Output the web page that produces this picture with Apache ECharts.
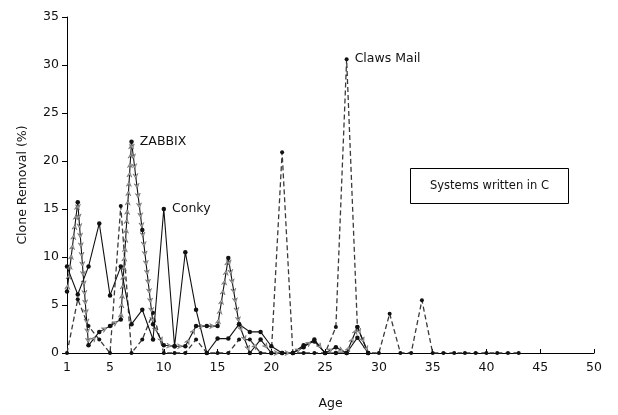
<!DOCTYPE html>
<html>
<head>
<meta charset="utf-8">
<script src="https://cdn.jsdelivr.net/npm/echarts@6/dist/echarts.min.js"></script>
<style>
html,body{margin:0;padding:0;background:#fff;}
#chart{width:618px;height:415px;}
</style>
</head>
<body>
<div id="chart"></div>
<script>
// ---- data ----
const ages = [1,2,3,4,5,6,7,8,9,10,11,12,13,14,15,16,17,18,19,20,21,22,23,24,25,26,27,28,29,30,31,32,33,34,35,36,37,38,39,40,41,42,43];
const zabbix = [6.4,15.7,0.8,2.2,2.8,3.5,22.0,12.8,3.0,0.8,0.7,0.7,2.8,2.8,2.8,9.9,3.0,0,1.4,0,0,0,0.6,1.4,0,0.6,0,2.7,0];
const conky  = [9.0,6.1,9.0,13.5,6.0,9.0,3.0,4.5,1.4,15.0,0.7,10.5,4.5,0,1.5,1.5,3.0,2.2,2.2,0.7,0,0,0.8,1.2,0,0,0,1.6,0];
const claws  = [0,5.6,2.8,1.4,0,15.3,0,1.4,4.2,0,0,0,1.4,0,0,0,1.4,1.4,0,0,20.9,0,0,0,0,2.7,30.6,2.7,0,0,4.1,0,0,5.5,0,0,0,0,0,0,0,0,0];
const xTickValues = [1,5,10,15,20,25,30,35,40,45,50];
const seriesNames = ['ZABBIX','Conky','Claws Mail'];
const noteText = 'Systems written in C';

// ---- build ----
const FONT = 'DejaVu Sans';
function pairs(vals, labelName){
  const peak = Math.max.apply(null, vals);
  return vals.map((v,i)=>{
    const item = {value:[ages[i], v]};
    if (v === peak) {
      item.label = {show:true, position:'right', distance:6, formatter:labelName,
        color:'#111', fontFamily:FONT, fontSize:12.5};
    }
    return item;
  });
}
const zSegs = [];
for (let i=0;i<zabbix.length-1;i++) zSegs.push([ages[i],zabbix[i],ages[i+1],zabbix[i+1]]);

const chart = echarts.init(document.getElementById('chart'), null, {renderer:'canvas'});
chart.setOption({
  animation:false,
  backgroundColor:'#fff',
  grid:{left:67,right:24,top:17,bottom:59},
  xAxis:{
    type:'value', min:1, max:50,
    name:'Age', nameLocation:'middle', nameGap:44,
    nameTextStyle:{color:'#111',fontFamily:FONT,fontSize:12.5},
    axisLine:{show:true,lineStyle:{color:'#000',width:1}},
    axisTick:{show:true,inside:true,length:4,customValues:xTickValues.slice(1),lineStyle:{color:'#000'}},
    axisLabel:{customValues:xTickValues,color:'#111',fontFamily:FONT,fontSize:12.5,margin:8},
    splitLine:{show:false}
  },
  yAxis:{
    type:'value', min:0, max:35, interval:5,
    name:'Clone Removal (%)', nameLocation:'middle', nameGap:38, nameRotate:90,
    nameTextStyle:{color:'#111',fontFamily:FONT,fontSize:12.5},
    axisLine:{show:true,lineStyle:{color:'#000',width:1}},
    axisTick:{show:true,inside:false,length:5,lineStyle:{color:'#000'}},
    axisLabel:{color:'#111',fontFamily:FONT,fontSize:12.5,margin:8},
    splitLine:{show:false}
  },
  series:[
    {
      name:seriesNames[2], type:'line', data:pairs(claws, seriesNames[2]),
      symbol:'circle', symbolSize:4, showSymbol:true,
      lineStyle:{color:'#3a3a3a',width:1.3,type:[5,3]},
      itemStyle:{color:'#111'}, z:2
    },
    {
      name:seriesNames[1], type:'line', data:pairs(conky, seriesNames[1]),
      symbol:'circle', symbolSize:4.5,
      lineStyle:{color:'#111',width:1.1},
      itemStyle:{color:'#111'}, z:3
    },
    {
      name:seriesNames[0], type:'line', data:pairs(zabbix, seriesNames[0]),
      symbol:'circle', symbolSize:4.5,
      lineStyle:{color:'#111',width:1.1},
      itemStyle:{color:'#111'}, z:4
    },
    {
      name:seriesNames[0]+' arrows', type:'custom', z:5,
      encode:{x:[0,2],y:[1,3]},
      data:zSegs,
      renderItem:function(params, api){
        const p0 = api.coord([api.value(0), api.value(1)]);
        const p1 = api.coord([api.value(2), api.value(3)]);
        const dx = p1[0]-p0[0], dy = p1[1]-p0[1];
        const L = Math.sqrt(dx*dx+dy*dy);
        const children = [];
        const n = Math.floor(L/9);
        if (n < 1) return {type:'group', children};
        const ux = dx/L, uy = dy/L, nx = -uy, ny = ux, s = 2.5;
        for (let k=0;k<n;k++){
          const d = (k+0.5)*L/n;
          const cx = p0[0]+ux*d, cy = p0[1]+uy*d;
          children.push({type:'polygon', shape:{points:[
            [cx+ux*s, cy+uy*s],
            [cx-ux*s+nx*s, cy-uy*s+ny*s],
            [cx-ux*s*0.2, cy-uy*s*0.2],
            [cx-ux*s-nx*s, cy-uy*s-ny*s]
          ]}, style:{fill:'#b0b0b0', stroke:'#444', lineWidth:0.5}});
        }
        return {type:'group', children};
      }
    }
  ],
  graphic:[
    {type:'group', left:410, top:168, children:[
      {type:'rect', shape:{x:0,y:0,width:158,height:35}, style:{fill:'#fff',stroke:'#000',lineWidth:1}},
      {type:'text', x:79, y:17.5, style:{text:noteText, fill:'#111', font:'11.5px "DejaVu Sans"', align:'center', verticalAlign:'middle'}}
    ]}
  ]
});
</script>
</body>
</html>
